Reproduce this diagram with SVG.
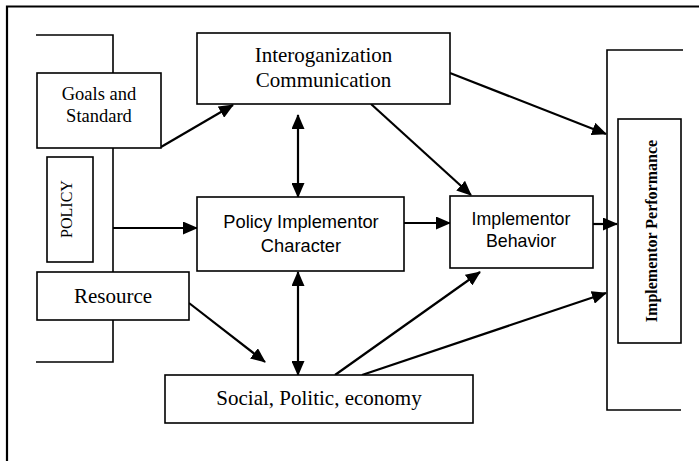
<svg xmlns="http://www.w3.org/2000/svg" width="699" height="461" viewBox="0 0 699 461">
<style>
.box{fill:#fff;stroke:#000;stroke-width:1.6}
.ln{fill:none;stroke:#000;stroke-width:1.6}
.ar{fill:none;stroke:#000;stroke-width:2.2}
.serif{font-family:"Liberation Serif","Times New Roman",serif;fill:#000;text-anchor:middle}
.sans{font-family:"Liberation Sans",Arial,sans-serif;fill:#000;text-anchor:middle}
</style>
<defs>
<marker id="ah" viewBox="0 0 15 13" refX="14" refY="6.5" markerWidth="15" markerHeight="13" markerUnits="userSpaceOnUse" orient="auto-start-reverse">
<path d="M0,0 L15,6.5 L0,13 z" fill="#000"/>
</marker>
</defs>
<rect width="699" height="461" fill="#fff"/>
<g id="frame">
<path d="M7,461 L7,6.5 L699,6.5" fill="none" stroke="#000" stroke-width="2.2"/>
</g>
<g id="left-bracket">
<path class="ln" d="M36,35 L113,35 L113,73"/>
<path class="ln" d="M113,148 L113,272"/>
<path class="ln" d="M113,320 L113,362 L36,362"/>
</g>
<g id="right-bracket">
<path class="ln" d="M683,50 L607,50 L607,410 L681,410"/>
</g>
<g id="connectors">
<line class="ar" x1="161" y1="147" x2="233" y2="105" marker-end="url(#ah)"/>
<line class="ar" x1="113" y1="228" x2="197" y2="228" marker-end="url(#ah)"/>
<line class="ar" x1="189" y1="303" x2="265" y2="362" marker-end="url(#ah)"/>
<line class="ar" x1="298" y1="115" x2="298" y2="197" marker-start="url(#ah)" marker-end="url(#ah)"/>
<line class="ar" x1="298" y1="272" x2="298" y2="375" marker-start="url(#ah)" marker-end="url(#ah)"/>
<line class="ar" x1="404" y1="223" x2="450" y2="223" marker-end="url(#ah)"/>
<line class="ar" x1="450" y1="73" x2="606" y2="134" marker-end="url(#ah)"/>
<line class="ar" x1="371" y1="104" x2="471" y2="195" marker-end="url(#ah)"/>
<line class="ar" x1="585" y1="224" x2="617" y2="224" marker-end="url(#ah)"/>
<line class="ar" x1="335" y1="375" x2="480" y2="272" marker-end="url(#ah)"/>
<line class="ar" x1="362" y1="375" x2="606" y2="293" marker-end="url(#ah)"/>
</g>
<g id="goals">
<rect class="box" x="37" y="73" width="124" height="75"/>
<text class="serif" font-size="18.5" x="99" y="100">Goals and</text>
<text class="serif" font-size="18.5" x="99" y="122">Standard</text>
</g>
<g id="policy">
<rect class="box" x="47" y="157" width="46" height="105"/>
<text class="serif" font-size="16" transform="translate(72,209) rotate(-90)">POLICY</text>
</g>
<g id="resource">
<rect class="box" x="37" y="272" width="152" height="48"/>
<text class="serif" font-size="21" x="113" y="303">Resource</text>
</g>
<g id="interorganization">
<rect class="box" x="197" y="33" width="253" height="71"/>
<text class="serif" font-size="21" x="323.5" y="62">Interoganization</text>
<text class="serif" font-size="21" x="323.5" y="87">Communication</text>
</g>
<g id="policy-implementor">
<rect class="box" x="197" y="197" width="207" height="74"/>
<text class="sans" font-size="18.3" x="301" y="228">Policy Implementor</text>
<text class="sans" font-size="18.3" x="301" y="252">Character</text>
</g>
<g id="implementor-behavior">
<rect class="box" x="450" y="196" width="143" height="72"/>
<text class="sans" font-size="17.8" x="521" y="225">Implementor</text>
<text class="sans" font-size="17.8" x="521" y="247">Behavior</text>
</g>
<g id="social">
<rect class="box" x="165" y="375" width="308" height="48"/>
<text class="serif" font-size="21" x="319" y="405">Social, Politic, economy</text>
</g>
<g id="implementor-performance">
<rect class="box" x="618" y="119" width="63" height="224"/>
<text class="serif" font-size="16" font-weight="bold" transform="translate(657,231) rotate(-90)">Implementor Performance</text>
</g>
</svg>
